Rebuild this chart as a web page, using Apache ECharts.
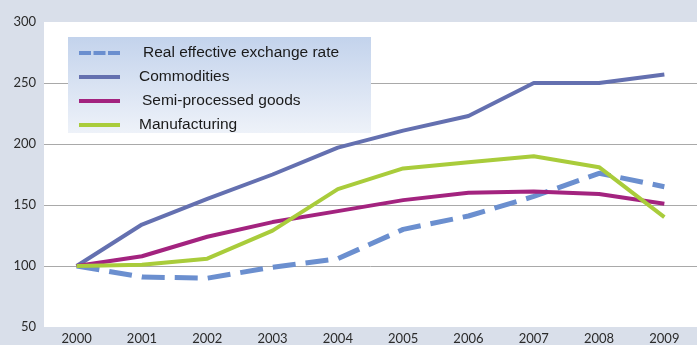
<!DOCTYPE html>
<html>
<head>
<meta charset="utf-8">
<script src="https://cdn.jsdelivr.net/npm/echarts@6/dist/echarts.min.js"></script>
<style>
	html, body { margin: 0; padding: 0; background: #d9dfea; }
	#chart { width: 697px; height: 345px; }
</style>
</head>
<body>
<div id="chart"></div>
<script>
const years = ['2000', '2001', '2002', '2003', '2004', '2005', '2006', '2007', '2008', '2009'];
const realRate = [100, 91, 90, 99, 106, 130, 141, 157, 176, 165];
const commodities = [100, 134, 155, 175, 197, 211, 223, 250, 250, 257];
const semiProcessed = [100, 108, 124, 136, 145, 154, 160, 161, 159, 151];
const manufacturing = [100, 101, 106, 129, 163, 180, 185, 190, 181, 140];
const yTicks = [50, 300, 50]; // min, max, step

const gridLine = '#a9a9a9';
const noLine = 'rgba(0,0,0,0)';
// legend swatches: a plain bar, and three short dashes for the exchange rate
const solidIcon = 'path://M0,0h41v4h-41z';
const dashIcon = 'path://M0,0h12v4h-12z M14.5,0h12v4h-12z M29,0h12v4h-12z';

const chart = echarts.init(document.getElementById('chart'), null, {renderer: 'canvas'});

chart.setOption({
	animation: false,
	backgroundColor: '#d9dfea',
	textStyle: {fontFamily: 'Lato', color: '#2b2b2b'},
	grid: {
		left: 44,
		width: 659,
		top: 22,
		bottom: 17,
		show: true,
		backgroundColor: '#ffffff',
		borderWidth: 0,
	},
	graphic: [{
		type: 'rect',
		left: 68,
		top: 37,
		shape: {width: 303, height: 96},
		style: {
			fill: new echarts.graphic.LinearGradient(0, 0, 0, 1, [
				{offset: 0, color: '#c3d3ec'},
				{offset: 1, color: '#eef2f9'},
			]),
		},
		z: 5,
	}],
	legend: {
		orient: 'vertical',
		left: 79,
		top: 41,
		padding: 0,
		itemWidth: 41,
		itemHeight: 4,
		itemGap: 0,
		z: 10,
		textStyle: {
			fontFamily: 'Liberation Sans', fontSize: 15.5, color: '#1a1a1a',
			lineHeight: 24, padding: [0, 0, 0, 14],
		},
		data: [
			{name: 'Real effective exchange rate', icon: dashIcon, textStyle: {padding: [0, 0, 0, 18]}},
			{name: 'Commodities', icon: solidIcon},
			{name: 'Semi-processed goods', icon: solidIcon, textStyle: {padding: [0, 0, 0, 17]}},
			{name: 'Manufacturing', icon: solidIcon},
		],
	},
	xAxis: {
		type: 'category',
		data: years,
		boundaryGap: true,
		axisLine: {show: false},
		axisTick: {show: false},
		axisLabel: {fontSize: 13, color: '#2b2b2b', margin: 5},
	},
	yAxis: {
		type: 'value',
		min: yTicks[0],
		max: yTicks[1],
		interval: yTicks[2],
		axisLine: {show: false},
		axisTick: {show: false},
		axisLabel: {fontSize: 13, color: '#2b2b2b', margin: 8},
		splitLine: {
			show: true,
			lineStyle: {color: [noLine, gridLine, gridLine, gridLine, gridLine, noLine], width: 1},
		},
	},
	series: [
		{
			name: 'Real effective exchange rate',
			type: 'line',
			data: realRate,
			symbol: 'none',
			itemStyle: {color: '#6b8fcf'},
			lineStyle: {color: '#6b8fcf', width: 5, type: [23, 10]},
		},
		{
			name: 'Commodities',
			type: 'line',
			data: commodities,
			symbol: 'none',
			itemStyle: {color: '#6470b0'},
			lineStyle: {color: '#6470b0', width: 4},
		},
		{
			name: 'Semi-processed goods',
			type: 'line',
			data: semiProcessed,
			symbol: 'none',
			itemStyle: {color: '#a3237f'},
			lineStyle: {color: '#a3237f', width: 4},
		},
		{
			name: 'Manufacturing',
			type: 'line',
			data: manufacturing,
			symbol: 'none',
			itemStyle: {color: '#a9cc3b'},
			lineStyle: {color: '#a9cc3b', width: 4},
		},
	],
});
</script>
</body>
</html>
